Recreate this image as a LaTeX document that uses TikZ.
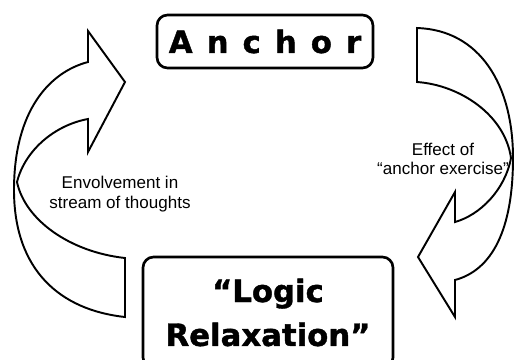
\documentclass[tikz,border=0pt]{standalone}
\usepackage{fontspec}
\setmainfont{Liberation Sans}
\newfontfamily\heavyfont{DejaVu Sans}[BoldFeatures={FakeBold=1.3}]
\begin{document}
\begin{tikzpicture}[x=0.02cm, y=-0.02cm,
    box/.style={draw, line width=1.5pt, rounded corners=6pt, align=center,
        font=\heavyfont\bfseries\fontsize{17.5}{25}\selectfont},
    note/.style={align=center, font=\fontsize{9.7}{11}\selectfont},
    bigarrow/.style={draw, fill=white, line width=1.1pt, line join=miter}]
    \clip (0,0) rectangle (514,359);
    % curved block arrows
    \draw[bigarrow] (125,258) -- (125,317)
        .. controls (60,310) and (14,270) .. (14,190)
        .. controls (14,110) and (50,72) .. (88,62)
        -- (88,31) -- (125,82) -- (88,152) -- (88,119)
        .. controls (55,125) and (25,150) .. (17,182)
        .. controls (25,220) and (70,252) .. (125,258) -- cycle;
    \draw[bigarrow] (417,82) -- (417,28)
        .. controls (480,30) and (513,85) .. (513,158)
        .. controls (513,230) and (492,270) .. (455,280)
        -- (455,317) -- (418,257) -- (455,192) -- (455,222)
        .. controls (480,215) and (505,190) .. (511,158)
        .. controls (505,115) and (460,85) .. (417,82) -- cycle;
    % boxes
    \node[box, minimum width=4.32cm, minimum height=1.06cm] (anchor) at (265,41.5)
        {A\hspace{8pt}n\hspace{8pt}c\hspace{8pt}h\hspace{8pt}o\hspace{8pt}r};
    \node[box, minimum width=5cm, minimum height=2.22cm] (relax) at (268,312.5)
        {“Logic\\Relaxation”};
    % labels
    \node[note] (thoughts) at (120,194) {Envolvement in\\stream of thoughts};
    \node[note] (effect) at (443,159) {Effect of\\“anchor exercise”};
\end{tikzpicture}
\end{document}
